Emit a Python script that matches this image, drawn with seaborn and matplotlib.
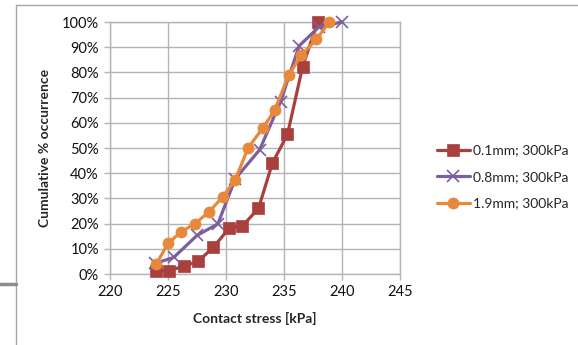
import numpy as np
import pandas as pd
import matplotlib
matplotlib.use('Agg')
import matplotlib.pyplot as plt
import seaborn as sns
from matplotlib.lines import Line2D
from matplotlib.ticker import PercentFormatter

# data
stress_01 = [224.0, 225.1, 226.4, 227.6, 228.9, 230.3, 231.4, 232.8, 234.0, 235.3, 236.6, 237.9]
cum_01 = [1.3, 1.3, 3.2, 5.0, 10.6, 18.3, 19.0, 26.0, 44.0, 55.4, 82.2, 100.0]

stress_08 = [223.9, 225.5, 227.5, 229.3, 230.8, 232.9, 234.7, 236.3, 238.0, 240.0]
cum_08 = [4.2, 6.6, 15.3, 19.9, 37.8, 49.3, 68.3, 90.5, 98.0, 100.0]

stress_19 = [224.0, 225.0, 226.1, 227.3, 228.5, 229.7, 230.8, 231.9, 233.2, 234.2, 235.4, 236.5, 237.8, 238.9]
cum_19 = [4.0, 12.2, 16.6, 19.9, 24.5, 30.5, 37.4, 50.0, 58.1, 65.0, 78.9, 86.9, 93.1, 100.0]

labels = ['0.1mm; 300kPa', '0.8mm; 300kPa', '1.9mm; 300kPa']
colors = ['#AA403D', '#7C5F9E', '#E8883A']
markers = ['s', 'x', 'o']
msizes = [8, 8, 8]

sns.set_style('whitegrid')
plt.rcParams['font.family'] = ['Lato', 'DejaVu Sans']

W, H = 578, 345
fig = plt.figure(figsize=(W / 100, H / 100), dpi=100)
ax = fig.add_axes([110 / W, (H - 274) / H, 290 / W, (274 - 22) / H])

series = [(stress_01, cum_01), (stress_08, cum_08), (stress_19, cum_19)]
for (xs, ys), lab, c, m, ms in zip(series, labels, colors, markers, msizes):
    sns.lineplot(x=xs, y=ys, ax=ax, color=c, lw=2.3, marker=m, markersize=ms,
                 markeredgecolor=c, markeredgewidth=1.2 if m == 'x' else 0.5,
                 sort=False, label=lab, legend=False, clip_on=False, zorder=3)

ax.set_xlim(220, 245)
ax.set_ylim(0, 100)
ax.set_xticks(np.arange(220, 246, 5))
ax.set_yticks(np.arange(0, 101, 10))
ax.yaxis.set_major_formatter(PercentFormatter(decimals=0))
ax.grid(True, color='#B4B4B4', lw=1)
for s in ax.spines.values():
    s.set_color('#B4B4B4')
    s.set_linewidth(1)
ax.tick_params(axis='both', length=4, width=1, color='#B4B4B4', labelsize=10.5,
               labelcolor='#111111', pad=4, direction='out', left=True, bottom=True)
ax.set_xlabel('Contact stress [kPa]', fontsize=10, fontweight='bold', labelpad=9)
ax.set_ylabel('Cumulative % occurrence', fontsize=10, fontweight='bold', labelpad=8)

handles = [Line2D([0], [0], color=c, lw=2.3, marker=m, markersize=ms, markeredgecolor=c,
                  markeredgewidth=1.2 if m == 'x' else 0.5)
           for c, m, ms in zip(colors, markers, msizes)]
fig.legend(handles, labels, loc='center left', bbox_to_anchor=(424 / W, 1 - 177 / H),
           frameon=False, fontsize=10, handlelength=2.4, handletextpad=0.25, labelspacing=1.05)

# chart frame lines
fig.add_artist(Line2D([16 / W, 16 / W], [0, 1 - 5 / H], color='#A6A6A6', lw=1, transform=fig.transFigure))
fig.add_artist(Line2D([16 / W, 1], [1 - 5 / H, 1 - 5 / H], color='#A6A6A6', lw=1, transform=fig.transFigure))
fig.add_artist(Line2D([0, 16 / W], [1 - 284 / H, 1 - 284 / H], color='#8C8C8C', lw=2.5, transform=fig.transFigure))

fig.savefig('out.png', dpi=100)
